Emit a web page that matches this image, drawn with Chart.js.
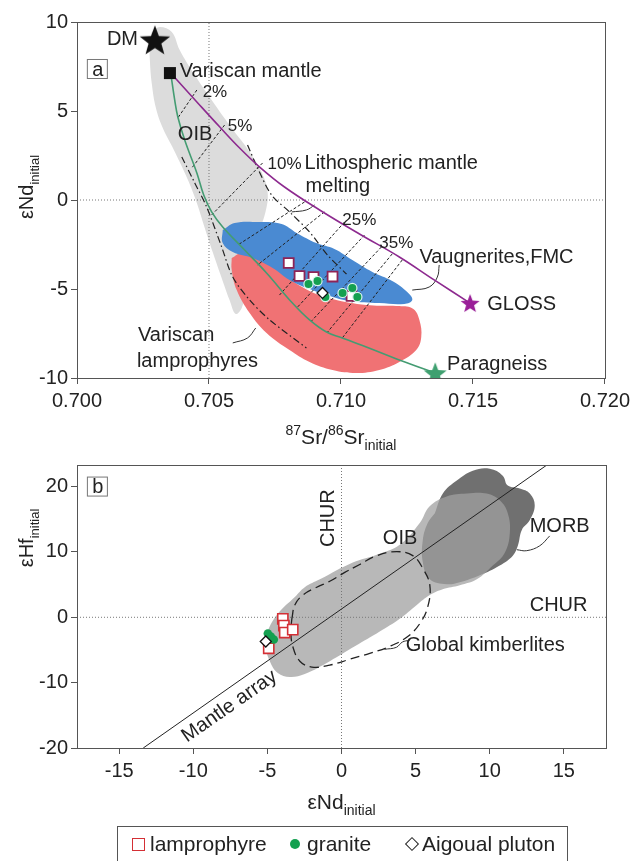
<!DOCTYPE html>
<html>
<head>
<meta charset="utf-8">
<script src="https://cdn.jsdelivr.net/npm/chart.js@4.4.0/dist/chart.umd.min.js"></script>
<style>
  body { margin: 0; background: #fff; width: 635px; height: 861px; position: relative; overflow: hidden;
         font-family: 'Liberation Sans', Arial, Helvetica, sans-serif; color: #222; }
  canvas { position: absolute; left: 0; }
  #srnd { top: 0; }
  #hfnd { top: 450px; }
  #legend { position: absolute; left: 117px; top: 826px; width: 451px; height: 36px; border: 1px solid #555;
            box-sizing: border-box; font-size: 21px; }
  #legend .item { position: absolute; top: 5px; white-space: nowrap; }
  #legend .mk { position: absolute; box-sizing: border-box; }
</style>
</head>
<body>
<canvas id="srnd" width="635" height="460"></canvas>
<canvas id="hfnd" width="635" height="380"></canvas>
<div id="legend"></div>
<script>
// ---- panel a : 87Sr/86Sr vs eNd ----
var srTicks = [0.700, 0.705, 0.710, 0.715, 0.720];
var ndTicksA = [-10, -5, 0, 5, 10];

var lampSr  = [0.70802, 0.70843, 0.70896, 0.70968, 0.71040];
var lampNdA = [-3.54, -4.27, -4.33, -4.30, -5.39];
var granSr  = [0.70877, 0.70911, 0.70941, 0.71006, 0.71043, 0.71062];
var granNdA = [-4.72, -4.55, -5.45, -5.22, -4.94, -5.45];
var aigSr   = [0.70930];
var aigNdA  = [-5.22];

// end-members
var dmPt       = [0.70295, 9.0];
var variscanPt = [0.70352, 7.13];
var glossPt    = [0.71489, -5.79];
var paraPt     = [0.71357, -9.72];

// fields
var oibFieldA = [[0.70284, 9.44], [0.70314, 9.72], [0.70359, 9.44], [0.70389, 8.43], [0.70446, 7.02],
  [0.70510, 5.62], [0.70586, 4.04], [0.70654, 2.70], [0.70699, 1.57], [0.70722, 0.45], [0.70714, -0.67],
  [0.70684, -1.97], [0.70654, -3.37], [0.70639, -5.06], [0.70624, -6.07], [0.70601, -6.40], [0.70578, -5.62],
  [0.70548, -4.38], [0.70514, -2.92], [0.70484, -1.57], [0.70450, 0.0], [0.70412, 1.40], [0.70367, 2.81],
  [0.70325, 4.04], [0.70299, 5.17], [0.70284, 6.46], [0.70276, 7.87], [0.70276, 8.88]];
var vaugField = [[0.70552, -1.69], [0.70597, -1.29], [0.70692, -1.24], [0.70775, -1.35], [0.70832, -1.85],
  [0.70907, -2.42], [0.70975, -2.75], [0.71043, -3.37], [0.71119, -4.04], [0.71194, -4.55], [0.71251, -5.17],
  [0.71270, -5.62], [0.71240, -5.84], [0.71145, -5.79], [0.71032, -5.67], [0.70956, -5.39], [0.70881, -5.00],
  [0.70805, -4.49], [0.70741, -3.82], [0.70665, -3.26], [0.70590, -2.92], [0.70552, -2.42]];
var lampField = [[0.70586, -3.26], [0.70627, -2.98], [0.70718, -3.48], [0.70794, -4.33], [0.70881, -5.11],
  [0.70968, -5.56], [0.71096, -5.90], [0.71221, -5.96], [0.71274, -6.12], [0.71297, -6.74], [0.71304, -7.70],
  [0.71285, -8.43], [0.71221, -9.10], [0.71145, -9.55], [0.71058, -9.72], [0.70968, -9.55], [0.70881, -9.10],
  [0.70805, -8.43], [0.70718, -7.47], [0.70654, -6.35], [0.70605, -5.06], [0.70586, -3.93]];

// mixing curves from the Variscan mantle
var mixPara = [[0.70355, 7.13], [0.70370, 5.62], [0.70382, 4.66], [0.70408, 3.37], [0.70454, 1.52],
  [0.70480, 0.28], [0.70510, -0.67], [0.70552, -1.52], [0.70635, -2.81], [0.70718, -4.10], [0.70816, -5.79],
  [0.70881, -6.74], [0.70945, -7.42], [0.71005, -7.75], [0.71096, -8.26], [0.71221, -8.99], [0.71357, -9.72]];
var mixGloss = [[0.70355, 7.13], [0.70454, 5.51], [0.70541, 4.10], [0.70616, 2.92], [0.70692, 1.85],
  [0.70786, 0.73], [0.70919, -0.56], [0.71070, -1.91], [0.71221, -3.20], [0.71353, -4.49], [0.71489, -5.79]];

// melting envelope
var meltLow = [[0.70397, 2.42], [0.70446, 0.96], [0.70491, -0.39], [0.70548, -2.64], [0.70590, -4.33],
  [0.70654, -5.62], [0.70730, -6.74], [0.70869, -8.31]];
var meltHigh = [[0.70646, 3.09], [0.70684, 1.80], [0.70737, 0.28], [0.70805, -0.67], [0.70881, -1.80],
  [0.70949, -3.09], [0.71021, -4.16]];

// tie lines, GLOSS side and paragneiss side
var tieUp = [[0.70454, 6.18], [0.70559, 4.21], [0.70703, 2.08], [0.70862, -0.11], [0.70937, -0.67],
  [0.71013, -1.24], [0.71089, -1.97], [0.71153, -2.64], [0.71194, -3.03], [0.71232, -3.37]];
var tieLow = [[0.70382, 4.61], [0.70435, 1.80], [0.70510, -0.84], [0.70609, -2.53], [0.70684, -3.65],
  [0.70767, -5.34], [0.70832, -6.07], [0.70888, -6.80], [0.70949, -7.42], [0.71005, -7.75]];

var leadMelt = [[0.70900, -0.28], [0.70869, -0.56], [0.70813, -0.67]];
var leadVaug = [[0.71270, -5.06], [0.71334, -4.89], [0.71365, -4.33], [0.71372, -3.65]];
var leadLamp = [[0.70590, -8.03], [0.70646, -7.75], [0.70677, -7.19]];

// ---- panel b : eNd vs eHf ----
var ndTicksB = [-15, -10, -5, 0, 5, 10, 15];
var hfTicks = [-20, -10, 0, 10, 20];

var lampNdB = [-3.96, -3.89, -3.83, -3.29, -4.91];
var lampHf  = [-0.23, -1.28, -2.34, -1.89, -4.75];
var granNdB = [-4.97, -4.77, -4.57];
var granHf  = [-2.49, -2.94, -3.40];
var aigNdB  = [-5.11];
var aigHf   = [-3.70];

var mantleArray = [[-13.38, -20], [13.86, 23.3]];
var oibFieldB = [[-1.46, 5.81], [0.76, 8.38], [2.38, 9.58], [3.93, 11.09], [5.28, 14.42], [5.95, 16.98],
  [7.10, 18.49], [8.45, 18.94], [9.80, 18.94], [10.68, 17.89], [11.22, 15.92], [11.36, 12.91], [11.02, 9.89],
  [10.21, 7.92], [9.13, 5.81], [7.98, 4.91], [6.83, 4.30], [5.96, 3.40], [5.08, 1.89], [3.93, -0.23],
  [2.58, -2.19], [0.90, -4.45], [-0.79, -6.72], [-2.48, -8.68], [-3.49, -9.13], [-4.30, -8.53],
  [-4.84, -6.72], [-5.11, -4.45], [-4.98, -2.19], [-4.30, 0.53], [-3.15, 3.09], [-2.48, 4.60]];
var morbField = [[6.30, 15.92], [6.84, 18.94], [7.78, 20.91], [8.86, 22.42], [10.01, 22.72], [10.88, 21.66],
  [11.22, 20.15], [12.03, 19.70], [12.71, 18.94], [13.04, 17.13], [12.71, 14.87], [12.17, 13.36],
  [11.90, 10.94], [11.56, 9.43], [10.68, 7.92], [9.33, 6.42], [7.98, 5.36], [7.10, 5.06], [5.96, 5.81],
  [5.49, 8.38], [5.49, 11.85], [5.82, 14.42]];
var kimbField = [[-3.35, -0.23], [-3.15, 1.89], [-2.61, 3.40], [-1.67, 4.60], [-0.79, 5.51], [0.22, 6.87],
  [1.23, 8.08], [2.38, 9.43], [3.73, 10.04], [4.81, 9.43], [5.49, 7.47], [5.96, 4.91], [5.82, 1.58],
  [5.28, -0.98], [4.47, -2.94], [3.26, -4.45], [1.91, -5.51], [0.56, -6.42], [-0.79, -7.32], [-2.00, -7.62],
  [-2.81, -6.72], [-3.29, -4.45], [-3.42, -2.19]];
var leadMorb = [[11.83, 10.34], [12.50, 10.19], [13.38, 10.94], [14.05, 12.45]];
var leadKimb = [[2.9, -4.9], [3.7, -4.6], [4.1, -3.8], [4.6, -3.5]];

var sampleNames = ['lamprophyre', 'granite', 'Aigoual pluton'];

var FONT = "'Liberation Sans', Arial, Helvetica, sans-serif";
var INK = '#222';
var AXIS = '#555';
var LAMP_A = '#8e2356', LAMP_B = '#d42f35', GRAN = '#14a050';

function xy(pairs) { return pairs.map(function (p) { return { x: p[0], y: p[1] }; }); }
function closed(pairs) { return xy(pairs.concat([pairs[0]])); }
function zipXY(xs, ys) { return xs.map(function (x, i) { return { x: x, y: ys[i] }; }); }

function field(pairs, color, order) {
  return { data: closed(pairs), fill: 'shape', backgroundColor: color, borderColor: 'rgba(0,0,0,0)',
           borderWidth: 1, pointRadius: 0, tension: 0.4, order: order };
}
function curve(pts, color, width, dash, order, tension) {
  return { data: pts, fill: false, borderColor: color, borderWidth: width, borderDash: dash || [],
           pointRadius: 0, tension: tension == null ? 0.4 : tension, order: order };
}
function marks(pts, style, radius, bg, border, bw, order) {
  return { data: pts, showLine: false, pointStyle: style, pointRadius: radius, pointBackgroundColor: bg,
           pointBorderColor: border, pointBorderWidth: bw, order: order };
}

function starImage(r, color) {
  var c = document.createElement('canvas');
  c.width = c.height = Math.ceil(r * 2 + 2);
  var g = c.getContext('2d');
  g.translate(c.width / 2, c.height / 2 + r * 0.1);
  g.beginPath();
  for (var i = 0; i < 10; i++) {
    var rad = i % 2 ? r * 0.42 : r;
    var ang = -Math.PI / 2 + i * Math.PI / 5;
    g.lineTo(rad * Math.cos(ang), rad * Math.sin(ang));
  }
  g.closePath();
  g.fillStyle = color;
  g.fill();
  return c;
}

function scaleOpts(min, max, ticks, fmt, isX) {
  return {
    type: 'linear', min: min, max: max,
    afterBuildTicks: function (s) { s.ticks = ticks.map(function (v) { return { value: v }; }); },
    afterFit: function (s) { if (isX) s.height = 60; else s.width = 77; },
    grid: { drawOnChartArea: false, drawTicks: true, tickLength: 6, color: AXIS, lineWidth: 1 },
    border: { display: false },
    ticks: { color: INK, font: { family: FONT, size: 20 }, padding: isX ? 5 : 3, maxRotation: 0,
             autoSkip: false, callback: fmt }
  };
}

function drawRich(ctx, parts, x, y, size) {
  var small = Math.round(size * 0.65);
  var w = 0;
  parts.forEach(function (p) { ctx.font = (p[1] ? small : size) + 'px ' + FONT; w += ctx.measureText(p[0]).width; });
  var cx = x - w / 2;
  ctx.textAlign = 'left';
  ctx.textBaseline = 'alphabetic';
  parts.forEach(function (p) {
    ctx.font = (p[1] ? small : size) + 'px ' + FONT;
    var dy = p[1] === 'sup' ? -size * 0.45 : p[1] === 'sub' ? size * 0.3 : 0;
    ctx.fillText(p[0], cx, y + dy);
    cx += ctx.measureText(p[0]).width;
  });
}

// frame, axis titles and text notes
function decor(xTitle, xBase, yTitle, yMid, items) {
  return {
    id: 'decor',
    afterDatasetsDraw: function (chart) {
      var ctx = chart.ctx, a = chart.chartArea, sx = chart.scales.x, sy = chart.scales.y;
      ctx.save();
      ctx.strokeStyle = AXIS;
      ctx.lineWidth = 1;
      ctx.strokeRect(Math.round(a.left) + 0.5, Math.round(a.top) + 0.5,
                     Math.round(a.right - a.left), Math.round(a.bottom - a.top));
      ctx.fillStyle = INK;
      drawRich(ctx, xTitle, (a.left + a.right) / 2, xBase, 21);
      ctx.save();
      ctx.translate(33, yMid);
      ctx.rotate(-Math.PI / 2);
      drawRich(ctx, yTitle, 0, 0, 20);
      ctx.restore();

      items.forEach(function (n) {
        var px = sx.getPixelForValue(n.x), py = sy.getPixelForValue(n.y);
        ctx.font = (n.size || 20) + 'px ' + FONT;
        ctx.textAlign = n.align || 'left';
        ctx.textBaseline = 'middle';
        ctx.save();
        ctx.translate(px, py);
        if (n.rot) ctx.rotate(n.rot);
        if (n.along) {
          var p1x = sx.getPixelForValue(n.along[0][0]), p1y = sy.getPixelForValue(n.along[0][1]);
          var p2x = sx.getPixelForValue(n.along[1][0]), p2y = sy.getPixelForValue(n.along[1][1]);
          ctx.rotate(Math.atan2(p2y - p1y, p2x - p1x));
        }
        ctx.fillText(n.text, 0, 1);
        if (n.box) {
          ctx.strokeStyle = '#777';
          ctx.strokeRect(-10.5, -9.5, 20, 19);
        }
        ctx.restore();
      });
      ctx.restore();
    }
  };
}

// ---------- panel a ----------
var dsA = [
  field(oibFieldA, '#dcdcdc', 30),
  field(lampField, '#f07274', 29),
  field(vaugField, '#4a8ad2', 28),
  curve(xy([[0.705, -10], [0.705, 10]]), '#777', 1, [1, 2], 27, 0),
  curve(xy([[0.700, 0], [0.720, 0]]), '#777', 1, [1, 2], 27, 0)
];
tieUp.forEach(function (p, i) { dsA.push(curve(xy([p, tieLow[i]]), '#222', 1, [3, 2], 26, 0)); });
dsA.push(
  curve(xy(meltLow), '#222', 1.2, [7, 3, 1.5, 3], 25, 0.3),
  curve(xy(meltHigh), '#222', 1.2, [7, 3, 1.5, 3], 25, 0.3),
  curve(xy(leadMelt), '#333', 1, [], 25, 0.4),
  curve(xy(leadVaug), '#333', 1, [], 25, 0.4),
  curve(xy(leadLamp), '#333', 1, [], 25, 0.4),
  curve(xy(mixPara), '#449c72', 1.6, [], 24, 0.4),
  curve(xy(mixGloss), '#8d2a8f', 1.6, [], 24, 0.4),
  marks([{ x: dmPt[0], y: dmPt[1] }], starImage(16, '#111'), 10, '#111', '#111', 0, 5),
  marks([{ x: variscanPt[0], y: variscanPt[1] }], 'rect', 8.5, '#111', '#111', 0, 5),
  marks([{ x: glossPt[0], y: glossPt[1] }], starImage(10, '#9a1f98'), 8, '#9a1f98', '#9a1f98', 0, 5),
  marks([{ x: paraPt[0], y: paraPt[1] }], starImage(12, '#3fa070'), 8, '#3fa070', '#3fa070', 0, 5),
  marks(zipXY(lampSr, lampNdA), 'rect', 7, '#fff', LAMP_A, 1.8, 3),
  marks(zipXY(granSr, granNdA), 'circle', 4.6, GRAN, '#d8f4ee', 1.2, 2),
  marks(zipXY(aigSr, aigNdA), 'rectRot', 5.5, '#fff', '#111', 1.3, 1)
);

var notesA = [
  { text: 'DM', x: 0.70231, y: 9.10, align: 'right' },
  { text: 'a', x: 0.70079, y: 7.36, align: 'center', box: true },
  { text: 'Variscan mantle', x: 0.70389, y: 7.30 },
  { text: '2%', x: 0.70476, y: 6.12, size: 17 },
  { text: 'OIB', x: 0.70382, y: 3.76 },
  { text: '5%', x: 0.70571, y: 4.21, size: 17 },
  { text: '10%', x: 0.70722, y: 2.08, size: 17 },
  { text: 'Lithospheric mantle', x: 0.70862, y: 2.08 },
  { text: 'melting', x: 0.70866, y: 0.84 },
  { text: '25%', x: 0.71005, y: -1.07, size: 17 },
  { text: '35%', x: 0.71145, y: -2.36, size: 17 },
  { text: 'Vaugnerites,FMC', x: 0.71297, y: -3.20 },
  { text: 'GLOSS', x: 0.71554, y: -5.79 },
  { text: 'Paragneiss', x: 0.71402, y: -9.21 },
  { text: 'Variscan', x: 0.70231, y: -7.58 },
  { text: 'lamprophyres', x: 0.70227, y: -8.99 }
];

new Chart(document.getElementById('srnd'), {
  type: 'line',
  data: { datasets: dsA },
  options: {
    responsive: false, animation: false, events: [],
    layout: { padding: { left: 0, top: 22, right: 29, bottom: 22 }, autoPadding: false },
    plugins: { legend: { display: false }, tooltip: { enabled: false } },
    scales: {
      x: scaleOpts(0.700, 0.720, srTicks, function (v) { return v.toFixed(3); }, true),
      y: scaleOpts(-10, 10, ndTicksA, function (v) { return String(v); }, false)
    }
  },
  plugins: [decor([['87', 'sup'], ['Sr/', ''], ['86', 'sup'], ['Sr', ''], ['initial', 'sub']], 444,
                  [['\u03b5Nd', ''], ['initial', 'sub']], 187, notesA)]
});

// ---------- panel b ----------
var dsB = [
  field(morbField, '#707070', 30),
  field(oibFieldB, 'rgba(160,160,160,0.75)', 29),
  curve(xy([[0, -20], [0, 23.3]]), '#777', 1, [1, 2], 27, 0),
  curve(xy([[-17.85, 0], [17.85, 0]]), '#777', 1, [1, 2], 27, 0),
  curve(closed(kimbField), '#222', 1.3, [9, 5], 26, 0.4),
  curve(xy(mantleArray), '#222', 1, [], 25, 0),
  curve(xy(leadMorb), '#333', 1, [], 25, 0.4),
  curve(xy(leadKimb), '#333', 1, [], 25, 0.4),
  marks(zipXY(lampNdB, lampHf), 'rect', 7.2, '#fff', LAMP_B, 1.6, 3),
  marks(zipXY(granNdB, granHf), 'circle', 4.3, GRAN, GRAN, 0, 2),
  marks(zipXY(aigNdB, aigHf), 'rectRot', 5.5, '#fff', '#111', 1.3, 1)
];

var notesB = [
  { text: 'b', x: -16.44, y: 20.0, align: 'center', box: true },
  { text: 'CHUR', x: -0.92, y: 15.17, align: 'center', rot: -Math.PI / 2 },
  { text: 'CHUR', x: 12.70, y: 1.89 },
  { text: 'OIB', x: 2.79, y: 12.15 },
  { text: 'MORB', x: 12.70, y: 14.11 },
  { text: 'Global kimberlites', x: 4.34, y: -4.15 },
  { text: 'Mantle array', x: -7.60, y: -13.51, align: 'center', along: mantleArray }
];

new Chart(document.getElementById('hfnd'), {
  type: 'line',
  data: { datasets: dsB },
  options: {
    responsive: false, animation: false, events: [],
    layout: { padding: { left: 0, top: 11, right: 29, bottom: 22 }, autoPadding: false },
    plugins: { legend: { display: false }, tooltip: { enabled: false } },
    scales: {
      x: scaleOpts(-17.85, 17.85, ndTicksB, function (v) { return String(v); }, true),
      y: scaleOpts(-20, 23.3, hfTicks, function (v) { return String(v); }, false)
    }
  },
  plugins: [decor([['\u03b5Nd', ''], ['initial', 'sub']], 359,
                  [['\u03b5Hf', ''], ['initial', 'sub']], 88, notesB)]
});

// ---------- legend ----------
var legendMarks = [
  { left: 14, w: 13, h: 13, css: 'border:1.5px solid ' + LAMP_B + ';background:#fff;' },
  { left: 172, w: 10, h: 10, css: 'border-radius:50%;background:' + GRAN + ';' },
  { left: 289, w: 10, h: 10, css: 'border:1.3px solid #222;transform:rotate(45deg);' }
];
var legendText = [32, 189, 304];
var lg = document.getElementById('legend');
sampleNames.forEach(function (name, i) {
  var m = document.createElement('span');
  m.className = 'mk';
  var mk = legendMarks[i];
  m.style.cssText = 'left:' + mk.left + 'px;top:' + (17 - mk.h / 2) + 'px;width:' + mk.w + 'px;height:' + mk.h + 'px;' + mk.css;
  lg.appendChild(m);
  var t = document.createElement('span');
  t.className = 'item';
  t.style.left = legendText[i] + 'px';
  t.textContent = name;
  lg.appendChild(t);
});
</script>
</body>
</html>
